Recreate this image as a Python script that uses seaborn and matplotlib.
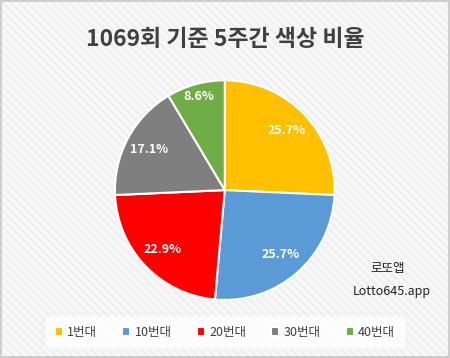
import matplotlib
matplotlib.use('Agg')
import matplotlib.pyplot as plt
from matplotlib.patches import Rectangle
import seaborn as sns

# data
labels = ['1번대', '10번대', '20번대', '30번대', '40번대']
counts = [9, 9, 8, 6, 3]   # 25.7 / 25.7 / 22.9 / 17.1 / 8.6 %
colors = ['#FFC000', '#5B9BD5', '#FF0000', '#7F7F7F', '#70AD47']
title = '1069회 기준 5주간 색상 비율'

sns.set_theme(style='white')
plt.rcParams['font.family'] = ['Noto Sans CJK KR', 'DejaVu Sans']

fig = plt.figure(figsize=(4.5, 3.58), dpi=100)
fig.patch.set_facecolor('#f2f2f2')

# striped background + border
bg = Rectangle((0, 0), 1, 1, transform=fig.transFigure, facecolor='#f7f7f7',
               edgecolor='#ececec', hatch='\\\\\\\\', linewidth=0, zorder=-10)
fig.patches.append(bg)
border = Rectangle((0.002, 0.003), 0.995, 0.993, transform=fig.transFigure,
                   fill=False, edgecolor='#c8c8c8', linewidth=1.2, zorder=5)
fig.patches.append(border)

ax = fig.add_axes([0.253, 0.159, 0.493, 0.62])
wedges, texts, autotexts = ax.pie(
    counts, colors=colors, startangle=90, counterclock=False,
    autopct='%1.1f%%', pctdistance=0.78,
    wedgeprops=dict(edgecolor='white', linewidth=1.5),
    textprops=dict(color='white', fontsize=9, fontweight='bold'))
# small slice label sits further out
x, y = autotexts[-1].get_position()
autotexts[-1].set_position((x * 1.13, y * 1.13))
ax.set_xlim(-1.01, 1.01)
ax.set_ylim(-1.01, 1.01)
ax.set_aspect('equal')

fig.text(0.5, 0.89, title, ha='center', va='center', fontsize=16.5,
         fontweight='bold', color='#404040')
fig.text(0.9, 0.25, '로또앱', ha='right', va='center', fontsize=9, color='#222222')
fig.text(0.957, 0.187, 'Lotto645.app', ha='right', va='center', fontsize=9,
         color='#222222')

leg = fig.legend(wedges, labels, loc='center', bbox_to_anchor=(0.5, 0.072),
                 ncol=5, frameon=True, fontsize=9, handlelength=0.65,
                 handleheight=0.65, handletextpad=0.35, columnspacing=2.0,
                 borderpad=0.7)
leg.get_frame().set_facecolor('white')
leg.get_frame().set_edgecolor('white')
for t in leg.get_texts():
    t.set_color('#404040')

fig.savefig('out.png', dpi=100, facecolor=fig.get_facecolor())
